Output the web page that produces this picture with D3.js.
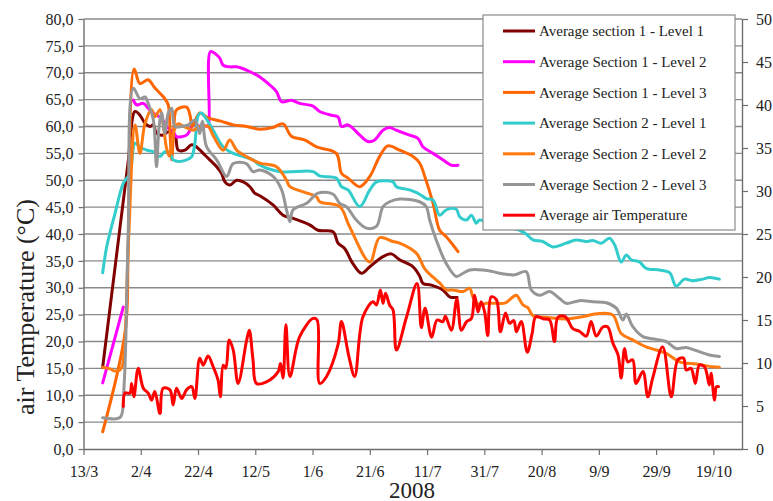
<!DOCTYPE html>
<html>
<head>
<meta charset="utf-8">
<script src="https://cdn.jsdelivr.net/npm/d3@7"></script>
<style>
  body { margin: 0; background: #fff; }
  svg text { font-family: "Liberation Serif", "Times New Roman", serif !important; fill: #222; }
</style>
</head>
<body>
<div id="chart"></div>
<script>
// day = days after 13/3/2008, value = degrees C (left axis)
var s1l1 = [[6.7,15.2],[11.9,37.6],[15.5,53],[18.0,62.8],[19.7,62.1],[21.5,60.6],[23.2,60.0],[24.4,60.3],[25.5,58.7],[27.8,58.4],[29.6,59.0],[31.9,58.4],[33.1,55.6],[35.4,55.6],[37.8,56.6],[39.5,56.2],[41.8,55.0],[44.1,53.8],[46.5,52.5],[48.2,51.3],[49.4,49.7],[51.1,49.1],[53.5,50.0],[55.8,49.7],[58.1,48.8],[59.8,47.6],[61.6,47.1],[66.2,45.4],[69.7,43.5],[73.2,42.9],[79.0,41.7],[81.9,40.7],[87.2,40.4],[88.9,38.3],[91.2,37.3],[94.1,34.5],[97.1,32.7],[100.0,33.9],[104.6,35.8],[107.5,36.3],[110.4,35.2],[115.1,33.9],[117.4,32.2],[118.6,30.8],[121.5,30.5],[125.5,29.6],[127.9,28.3],[130.5,28.2]];

var s1l2 = [[6.7,12.3],[13.9,26.4],[15.5,null],[17.4,64.9],[18.6,64.0],[20.9,64.3],[22.6,63.4],[24.4,62.5],[27.3,61.5],[29.0,60.0],[31.3,59.0],[32.5,58.1],[34.3,58.1],[36.0,58.4],[37.2,59.3],[38.3,60.3],[40.6,60.1],[43.0,60.1],[43.6,60.0],[44.3,73.9],[45.9,73.6],[47.6,72.7],[48.8,71.4],[51.1,71.1],[53.5,71.1],[56.9,70.5],[60.4,69.6],[61.6,69.2],[65.1,67.7],[67.4,66.5],[69.2,64.6],[72.6,64.9],[75.5,64.3],[80.2,63.8],[82.5,62.8],[86.6,62.1],[88.9,61.8],[90.1,60.0],[92.4,60.3],[96.5,58.4],[99.4,57.2],[101.7,57.5],[104.6,59.3],[106.9,59.8],[109.3,59.3],[113.9,58.4],[116.8,57.8],[118.6,56.2],[122.1,55.0],[125.5,53.8],[128.5,52.8],[130.8,52.8]];

var s1l3 = [[6.7,3.2],[14.6,22],[15.6,37],[17.7,70.7],[19.7,68.0],[22.6,68.7],[24.6,67.4],[26.7,66.2],[28.4,65.2],[29.6,64.0],[30.3,58],[30.8,53.8],[31.6,60],[32.5,63.1],[36.0,63.6],[37.2,62.1],[38.0,60.0],[40.6,62.5],[43.5,61.6],[48,61],[52.3,60.3],[57,60.0],[61.6,59.5],[66,59.8],[69.7,60.5],[72.6,58.2],[77.2,57.5],[81.4,56.2],[88.3,55.0],[90.1,51.3],[92.4,50.4],[96.5,48.8],[100,50.7],[103.4,54.4],[106.3,56.4],[110.4,55.6],[115.1,54.4],[117.4,53.2],[119.2,50.7],[122.1,45.7],[124.4,40.7],[126.7,39.5],[129.0,38.0],[130.8,36.7]];

var s2l1 = [[6.7,32.8],[8.1,37.6],[11.0,43.8],[13.9,49.4],[16.2,51.3],[18.0,56.9],[19.7,56.2],[22.1,55.6],[24.4,55.3],[26.7,54.4],[28.4,55.3],[30.2,55.0],[31.3,53.8],[33.1,53.5],[36.0,53.8],[37.8,54.4],[38.9,56.9],[40.1,62.1],[41.2,62.5],[42.4,61.8],[45.3,59.3],[48.8,56.2],[52.3,55.0],[55.8,54.4],[59.2,53.8],[61.6,52.8],[68.6,51.6],[80.2,51.6],[82.5,50.8],[88.3,50.4],[90.1,48.8],[92.4,48.2],[96.5,45.1],[100.0,48.2],[102.3,49.7],[105.8,49.9],[108.1,49.7],[109.3,48.8],[113.9,48.2],[117.4,47.4],[119.7,46.6],[122.1,46.3],[124.4,43.5],[126.7,44.5],[130.2,44.6],[131.4,43.2],[133.8,42.6],[135.5,43.5],[137.2,42.0],[138.3,42.6],[140.7,42.3],[146,41.5],[152.3,40.7],[154.6,40.0],[157.0,38.9],[160.4,38.6],[163.9,37.6],[168.6,38.3],[172.1,38.9],[175.6,38.6],[177.9,38.8],[180.8,38.3],[183.7,39.2],[185.5,38.0],[187.8,34.8],[189.6,36.1],[191.3,35.2],[194.2,34.8],[196.5,33.6],[201.2,33.3],[204.7,32.8],[207.0,30.3],[209.9,31.6],[212.8,31.3],[216.3,31.6],[218.6,31.9],[222.1,31.6]];

var s2l2 = [[6.7,15.2],[9.3,14.9],[11.0,14.5],[12.7,14.7],[13.6,15.5],[15.8,40],[18.0,60.3],[19.7,55.0],[21.5,60.6],[23.8,63.1],[24.9,61.8],[26.7,63.1],[27.8,60.5],[29.0,56],[30.0,54.5],[31.5,59],[33,60.5],[35,60],[37.2,59.5],[38.3,59.3],[40.6,60],[43.5,60],[45.5,58.1],[48.8,55.6],[51.1,57.5],[53.5,55.6],[56.9,54.4],[61.6,53.2],[67.4,52.5],[70.9,50.0],[72.1,48.8],[81.4,46.9],[82.5,46.0],[89.5,45.1],[92.9,41.4],[100.0,34.8],[103.4,39.3],[108.1,38.6],[110.4,38.3],[116.3,36.4],[119.2,33.5],[121.8,32.1],[124.4,30.9],[126.7,29.6],[129.0,29.6],[132.6,29.3],[134.9,29.9],[136.0,28.3],[138.3,26.8],[140.7,27.1],[144.2,27.1],[147.4,27.2],[150.0,28.3],[151.2,28.6],[153.5,26.8],[155.2,26.3],[157.0,24.8],[161.6,24.5],[168.6,24.2],[173.2,24.5],[180.2,25.2],[184.9,24.9],[187.8,21.5],[191.8,20.3],[196.5,19.0],[203.5,17.8],[208.2,16.2],[214.0,15.8],[219.7,15.3],[222.1,15.2]];

var s2l3 = [[6.7,5.8],[11.0,5.6],[13.0,6.0],[14.2,12],[15.6,40],[17.4,67.1],[19.7,65.2],[21.5,65.5],[22.6,64.3],[24.4,61.2],[25.5,52.5],[26.4,60],[27.3,62.5],[28.4,58.7],[29.6,62.5],[30.8,63.4],[31.9,60.0],[34.3,60.0],[36.6,60.3],[38.9,61.2],[40.6,58.7],[41.5,61],[43.0,56.2],[46.5,53.8],[50.0,50.7],[52.3,53.1],[56.9,53.1],[59.2,51.6],[61.6,51.9],[66.2,50.7],[69.2,48.2],[70.9,44.5],[72.1,42.3],[73.2,44.5],[77.9,45.7],[81.9,47.6],[87.2,47.4],[89.5,45.7],[91.8,45.1],[95.3,42.6],[98.8,41.1],[102.3,41.4],[104.6,45.1],[106.9,46.0],[110.4,46.5],[117.4,46.0],[119.7,45.1],[120.9,42.6],[123.2,38.9],[126.7,34.5],[130.2,32.1],[132.6,32.7],[134.9,33.3],[139.5,33.3],[143.0,33.0],[145.3,32.7],[150.6,32.4],[154.6,33.0],[156.4,29.6],[159.3,28.6],[162.8,29.3],[166.3,28.0],[168.6,27.1],[173.2,27.6],[177.9,27.4],[182.6,27.2],[186.1,26.2],[188.4,24.0],[189.6,25.1],[191.8,22.8],[195.4,20.9],[200.0,20.4],[203.5,20.0],[207.0,18.7],[210.5,18.9],[214.0,18.3],[218.6,17.5],[222.1,17.2]];

var airT = [[13.9,7.9],[14.5,10.4],[16.2,10.4],[16.8,12.2],[17.6,9.7],[19.1,15.0],[20.9,11.3],[22.6,10.4],[23.8,9.1],[24.9,10.7],[26.7,6.6],[27.8,11.3],[30.2,11.0],[31.3,8.2],[32.5,11.3],[34.3,9.4],[36.0,11.0],[37.8,11.6],[38.9,9.4],[40.6,16.9],[41.8,15.6],[43.5,17.3],[45.3,15.3],[47.0,12.8],[47.8,9.7],[48.8,15.6],[49.7,15.0],[50.9,20.3],[52.3,18.4],[54.0,12.2],[56.9,20.0],[57.9,22.1],[59.2,16.6],[60.4,12.2],[63.9,12.5],[68.0,14.4],[68.8,15.9],[69.7,13.2],[70.7,23.1],[72.1,13.5],[75.5,20.9],[80.2,24.3],[81.6,24.0],[82.5,12.2],[84.9,13.5],[88.9,19.4],[90.1,23.7],[92.7,17.2],[94.7,13.5],[97.6,24.6],[101.1,27.4],[102.3,26.8],[103.7,29.6],[104.6,27.1],[105.5,29.0],[106.9,26.8],[108.1,25.9],[109.3,18.4],[112.8,24.5],[116.5,30.8],[118.0,22.6],[119.3,26.2],[121.6,20.8],[123.5,24.0],[125.5,23.7],[126.4,24.7],[128.5,22.1],[130.4,27.9],[132.0,22.1],[133.8,23.7],[135.5,24.3],[136.6,28.6],[137.8,25.5],[138.9,27.4],[140.1,25.5],[141.2,21.1],[142.4,28.3],[144.2,27.8],[145.6,21.8],[147.4,25.3],[148.8,23.4],[150.3,23.9],[151.2,21.8],[152.9,23.7],[155.0,18.0],[156.7,21.5],[158.0,24.6],[160.8,24.2],[162.8,24.0],[164.5,20.0],[165.7,24.5],[168.0,24.7],[169.2,24.0],[170.9,22.4],[173.2,21.9],[175.6,21.0],[177.3,23.7],[179.1,21.0],[181.4,22.7],[183.1,22.7],[184.9,19.7],[186.7,17.5],[187.8,13.2],[189.0,18.7],[190.1,16.2],[191.8,16.6],[193.0,12.2],[195.4,14.4],[197.1,9.7],[198.8,13.2],[202.3,19.0],[205.3,9.7],[207.6,16.6],[209.6,16.9],[210.5,14.7],[212.2,15.0],[213.7,12.2],[215.1,15.6],[216.9,15.3],[218.6,11.9],[219.2,14.1],[220.4,9.1],[221.1,11.6],[221.8,11.6]];

var names = ['Average section 1 - Level 1', 'Average Section 1 - Level 2', 'Average Section 1 - Level 3',
             'Average Section 2 - Level 1', 'Average Section 2 - Level 2', 'Average Section 2 - Level 3',
             'Average air Temperature'];
var colors = ['#800000', '#ff00ff', '#ff6600', '#33cccc', '#ff7a10', '#969696', '#ff0000'];
var seriesData = [s1l1, s1l2, s1l3, s2l1, s2l2, s2l3, airT];

var leftTicks = d3.range(0, 81, 5);
var rightTicks = d3.range(0, 51, 5);
var dateTicks = d3.range(0, 221, 20); // every 20 days from 13/3
var yearLabel = '2008';
var yTitle = 'air Temperature (\u00b0C)';

var width = 773, height = 501;
var plotL = 83.5, plotR = 742, plotT = 19, plotB = 449;
var start = Date.UTC(2008, 2, 13), dayMs = 864e5;
function toDate(d) { return new Date(start + d * dayMs); }

var svg = d3.select('#chart').append('svg')
    .attr('width', width)
    .attr('height', height);

var x = d3.scaleUtc()
    .domain([toDate(0), toDate(230)])
    .range([plotL, plotR]);
var y = d3.scaleLinear().domain([0, 80]).range([plotB, plotT]);
var y2 = d3.scaleLinear().domain([0, 50]).range([plotB, plotT]);

// gridlines
svg.append('g').selectAll('line')
    .data(leftTicks.filter(function (d) { return d > 0; }))
    .enter().append('line')
    .attr('x1', plotL).attr('x2', plotR)
    .attr('y1', function (d) { return y(d); })
    .attr('y2', function (d) { return y(d); })
    .attr('stroke', '#8a8a8a')
    .attr('stroke-width', 1.4);

var fmt1 = d3.format('.1f');
var gy = svg.append('g')
    .attr('transform', 'translate(' + plotL + ',0)')
    .call(d3.axisLeft(y).tickValues(leftTicks).tickSize(5).tickSizeOuter(0).tickPadding(5)
        .tickFormat(function (d) { return fmt1(d).replace('.', ','); }));

var gy2 = svg.append('g')
    .attr('transform', 'translate(' + plotR + ',0)')
    .call(d3.axisRight(y2).tickValues(rightTicks).tickSize(6).tickSizeOuter(0).tickPadding(8));

var gx = svg.append('g')
    .attr('transform', 'translate(0,' + plotB + ')')
    .call(d3.axisBottom(x).tickValues(dateTicks.map(toDate)).tickSize(6).tickSizeOuter(0).tickPadding(11)
        .tickFormat(d3.utcFormat('%-d/%-m')));

[gy, gy2, gx].forEach(function (g) {
    g.attr('font-family', null).attr('font-size', null);
    g.selectAll('path.domain').attr('stroke', '#6e6e6e').attr('stroke-width', 1.4);
    g.selectAll('.tick line').attr('stroke', '#6e6e6e').attr('stroke-width', 1.2);
    g.selectAll('text').style('font-size', '16px').attr('fill', '#222');
});

var line = d3.line()
    .defined(function (d) { return d[1] != null; })
    .x(function (d) { return x(toDate(d[0])); })
    .y(function (d) { return y(d[1]); })
    .curve(d3.curveCatmullRom.alpha(0.5));

svg.append('g').selectAll('path')
    .data(seriesData)
    .enter().append('path')
    .attr('d', function (d) { return line(d); })
    .attr('fill', 'none')
    .attr('stroke', function (d, i) { return colors[i]; })
    .attr('stroke-width', 3)
    .attr('stroke-linejoin', 'round')
    .attr('stroke-linecap', 'round');

// legend
var lg = svg.append('g');
lg.append('rect')
    .attr('x', 483).attr('y', 15).attr('width', 252).attr('height', 215)
    .attr('fill', '#fff').attr('stroke', '#8a8a8a').attr('stroke-width', 1.2);
var rows = lg.selectAll('.row')
    .data(names)
    .enter().append('g')
    .attr('transform', function (d, i) { return 'translate(0,' + (31 + i * 30.7) + ')'; });
rows.append('line')
    .attr('x1', 503).attr('x2', 535)
    .attr('stroke', function (d, i) { return colors[i]; })
    .attr('stroke-width', 3);
rows.append('text')
    .attr('x', 539).attr('dy', '0.35em')
    .style('font-size', '15px')
    .text(function (d) { return d; });

svg.append('text')
    .attr('transform', 'translate(25,' + 307 + ') rotate(-90)')
    .attr('text-anchor', 'middle')
    .attr('dy', '0.35em')
    .style('font-size', '26px')
    .text(yTitle);

svg.append('text')
    .attr('x', 412).attr('y', 490)
    .attr('text-anchor', 'middle')
    .attr('dy', '0.35em')
    .style('font-size', '23px')
    .text(yearLabel);
</script>
</body>
</html>
